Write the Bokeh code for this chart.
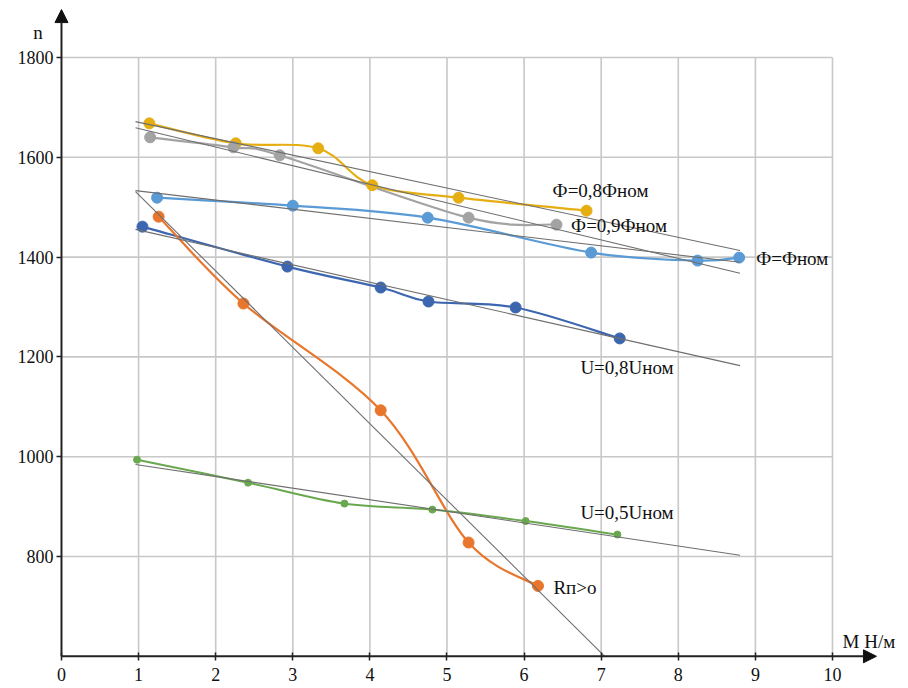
import numpy as np
from bokeh.plotting import figure
from bokeh.models import Range1d, FixedTicker, Arrow, NormalHead, Label, LinearAxis
from bokeh.core.properties import value
from bokeh.embed import file_html
from bokeh.resources import INLINE

# ---------------- data ----------------
x_ticks = [0, 1, 2, 3, 4, 5, 6, 7, 8, 9, 10]
n_ticks = [800, 1000, 1200, 1400, 1600, 1800]

m_phi08 = [1.14, 2.26, 3.33, 4.03, 5.15, 6.81]
n_phi08 = [1668, 1628, 1618, 1544, 1519, 1493]

m_phi09 = [1.15, 2.23, 2.83, 5.28, 6.42]
n_phi09 = [1640, 1620, 1604, 1479, 1465]

m_phinom = [1.24, 3.00, 4.75, 6.87, 8.25, 8.79]
n_phinom = [1519, 1503, 1479, 1409, 1393, 1399]

m_u08 = [1.05, 2.93, 4.14, 4.76, 5.89, 7.24]
n_u08 = [1461, 1381, 1339, 1311, 1299, 1237]

m_rp = [1.26, 2.36, 4.14, 5.28, 6.18]
n_rp = [1481, 1307, 1093, 828, 741]

m_u05 = [0.98, 2.42, 3.67, 4.81, 6.02, 7.21]
n_u05 = [994, 948, 906, 894, 871, 844]

series_names = ["Ф=0,8Фном", "Ф=0,9Фном", "Ф=Фном", "U=0,8Uном", "Rп>о", "U=0,5Uном"]
x_title = "М Н/м"
y_title = "n"

# ---------------- styles / layout ----------------
FONT = "Liberation Serif"
colors = ["#E5AE12", "#A3A3A3", "#5B9BD5", "#3D66B0", "#E8762D", "#6AA84F"]
msizes = [11, 11, 11, 11, 11, 7]
trend_from, trend_to = 0.96, 8.8
# label anchors (left, middle) in data coordinates
label_pos = [(6.37, 1533), (6.61, 1463), (9.01, 1397), (6.73, 1179), (6.38, 738), (6.73, 888)]

series = [(m_phi08, n_phi08), (m_phi09, n_phi09), (m_phinom, n_phinom),
          (m_u08, n_u08), (m_rp, n_rp), (m_u05, n_u05)]

X0, N0 = x_ticks[0], 600  # origin of the drawn axes

p = figure(width=900, height=684, output_backend="svg", toolbar_location=None,
           x_range=Range1d(-0.791, 10.882), y_range=Range1d(543.5, 1914.2),
           x_axis_location=None, y_axis_location=None, min_border=0)
p.xgrid.visible = False
p.ygrid.visible = False
p.outline_line_color = None

# grid confined to the 0..10 / 600..1800 box
p.segment(x0=x_ticks[1:], y0=[N0] * (len(x_ticks) - 1), x1=x_ticks[1:], y1=[n_ticks[-1]] * (len(x_ticks) - 1),
          line_color="#c8c8c8", line_width=1.6)
p.segment(x0=[X0] * len(n_ticks), y0=n_ticks, x1=[x_ticks[-1]] * len(n_ticks), y1=n_ticks,
          line_color="#c8c8c8", line_width=1.6)


def smooth_segments(xs, ys):
    P = np.column_stack([xs, ys]).astype(float)
    n = len(P)
    out = {k: [] for k in ("x0", "y0", "x1", "y1", "cx0", "cy0", "cx1", "cy1")}
    for i in range(n - 1):
        p0 = P[max(i - 1, 0)]
        p1 = P[i]
        p2 = P[i + 1]
        p3 = P[min(i + 2, n - 1)]
        c1 = p1 + (p2 - p0) / 6.0
        c2 = p2 - (p3 - p1) / 6.0
        out["x0"].append(p1[0]); out["y0"].append(p1[1])
        out["x1"].append(p2[0]); out["y1"].append(p2[1])
        out["cx0"].append(c1[0]); out["cy0"].append(c1[1])
        out["cx1"].append(c2[0]); out["cy1"].append(c2[1])
    return out


# smoothed series curves
for (xs, ys), c, ms in zip(series, colors, msizes):
    seg = smooth_segments(xs, ys)
    p.bezier(line_color=c, line_width=2.2 if ms > 8 else 2.0, line_cap="round", **seg)

# markers
for (xs, ys), c, ms in zip(series, colors, msizes):
    p.scatter(xs, ys, size=ms, fill_color=c, line_color=c)

# linear trend lines (least squares fit of each series), stopped at the M axis
for xs, ys in series:
    k, b = np.polyfit(xs, ys, 1)
    x_end = min(trend_to, (N0 - b) / k) if k < 0 else trend_to
    p.line([trend_from, x_end], [k * trend_from + b, k * x_end + b],
           line_color="#6e6e6e", line_width=1.1)

# series labels
for name, (lx, ly) in zip(series_names, label_pos):
    p.add_layout(Label(x=lx, y=ly, text=name, text_font=FONT, text_font_size="19px",
                       text_color="#111111", text_align="left", text_baseline="middle"))

# axes placed at the origin (inside the frame)
xax = LinearAxis(fixed_location=N0, ticker=FixedTicker(ticks=x_ticks),
                 major_label_text_font=FONT, major_label_text_font_size="18px")
yax = LinearAxis(fixed_location=X0, ticker=FixedTicker(ticks=n_ticks),
                 major_label_text_font=FONT, major_label_text_font_size="18px")
for ax in (xax, yax):
    ax.axis_line_color = None
    ax.major_tick_line_color = "#222222"
    ax.major_tick_line_width = 1.5
    ax.minor_tick_line_color = None
    ax.major_label_text_color = "#111111"
xax.major_tick_in = 4
xax.major_tick_out = 4
xax.major_label_standoff = 8
yax.major_tick_in = 0
yax.major_tick_out = 5
yax.major_label_standoff = 3
p.add_layout(xax, "below")
p.add_layout(yax, "left")

p.add_layout(Arrow(x_start=X0, y_start=N0, x_end=X0, y_end=1896, line_color="#222222", line_width=2,
                   end=NormalHead(size=13, fill_color="#111111", line_color="#111111")))
p.add_layout(Arrow(x_start=X0, y_start=N0, x_end=10.57, y_end=N0, line_color="#222222", line_width=2,
                   end=NormalHead(size=13, fill_color="#111111", line_color="#111111")))

p.add_layout(Label(x=-0.305, y=1850, text=y_title, text_font=FONT, text_font_size="19px",
                   text_color="#111111", text_align="center", text_baseline="middle"))
p.add_layout(Label(x=10.13, y=630, text=x_title, text_font=FONT, text_font_size="19px",
                   text_color="#111111", text_align="left", text_baseline="middle"))

open("out.html", "w").write(file_html(p, INLINE))
